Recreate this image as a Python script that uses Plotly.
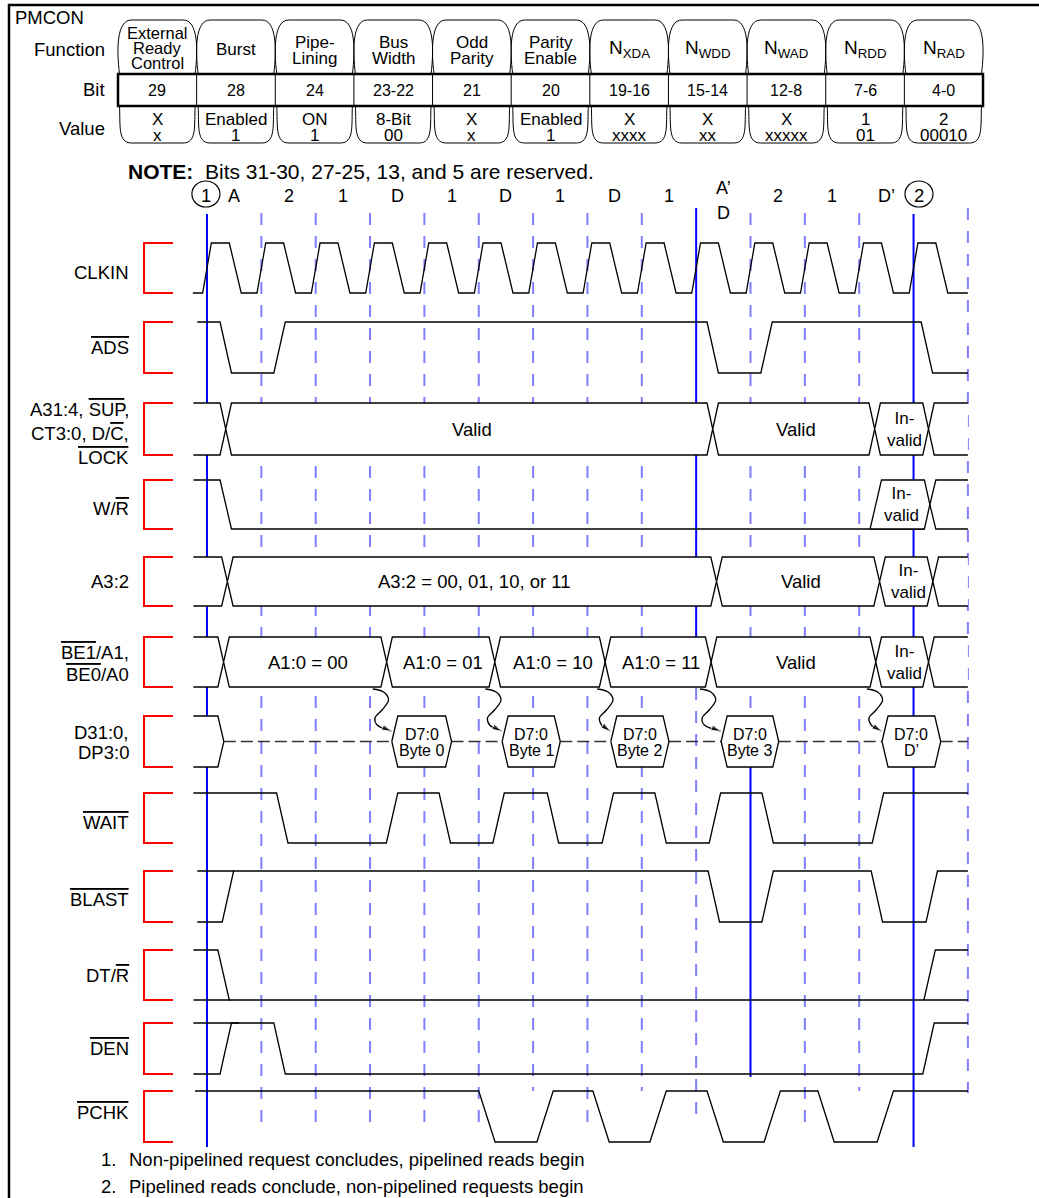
import plotly.graph_objects as go

FONT = "Liberation Sans, Arial, sans-serif"

# ---------------- register table ----------------
FUNCTIONS = ["External|Ready|Control", "Burst", "Pipe-|Lining", "Bus|Width", "Odd|Parity",
             "Parity|Enable", "N<sub>XDA</sub>", "N<sub>WDD</sub>", "N<sub>WAD</sub>",
             "N<sub>RDD</sub>", "N<sub>RAD</sub>"]
BITS = ["29", "28", "24", "23-22", "21", "20", "19-16", "15-14", "12-8", "7-6", "4-0"]
VALUE_NAMES = ["X", "Enabled", "ON", "8-Bit", "X", "Enabled", "X", "X", "X", "1", "2"]
VALUE_BITS = ["x", "1", "1", "00", "x", "1", "xxxx", "xx", "xxxxx", "01", "00010"]

# ---------------- timing data (clock units) ----------------
PHASE_LABELS = ["A", "2", "1", "D", "1", "D", "1", "D", "1", "A’", "2", "1", "D’"]
CLK_RISES = [0, 1, 2, 3, 4, 5, 6, 7, 8, 9, 10, 11, 12, 13]
DASHED_T = [1, 2, 3, 4, 5, 6, 7, 8, 11, 12]
MARKER_T = [0, 13]

ADS_EDGES = [0.24, 1.23, 9.2, 10.19, 13.14]
WR_EDGES = [0.24]
WR_INVALID = [12.2, 13.2]
WAIT_EDGES = [1.28, 3.3, 4.27, 5.26, 6.26, 7.27, 8.24, 9.24, 10.21, 12.24]
BLAST_EDGES = [0.28, 9.22, 10.21, 12.22, 13.23]
DTR_EDGES = [0.2, 13.19]
DEN_EDGES = [0.24, 1.23, 13.17]
PCHK_EDGES = [5.0, 6.07, 7.1, 8.15, 9.2, 10.25, 11.24, 12.33]

A31_TRANS = [0.24, 9.2, 12.18, 13.17]
A31_TEXT = ["", "Valid", "Valid", "In-<br>valid", ""]
A32_TRANS = [0.27, 9.27, 12.27, 13.25]
A32_TEXT = ["", "A3:2 = 00, 01, 10, or 11", "Valid", "In-<br>valid", ""]
BE_TRANS = [0.2, 3.2, 5.19, 7.22, 9.17, 12.2, 13.17]
BE_TEXT = ["", "A1:0 = 00", "A1:0 = 01", "A1:0 = 10", "A1:0 = 11", "Valid", "In-<br>valid", ""]
DATA_START = [3.4, 5.43, 7.43, 9.46, 12.42]
DATA_END = [4.5, 6.5, 8.5, 10.52, 13.5]
DATA_TEXT = ["Byte 0", "Byte 1", "Byte 2", "Byte 3", "D’"]
ARROW_FROM = [3.05, 5.12, 7.18, 9.07, 12.14]

NOTES = ["Non-pipelined request concludes, pipelined reads begin",
         "Pipelined reads conclude, non-pipelined requests begin"]

# ---------------- layout constants ----------------
W, H = 1039, 1198
X0, PER = 207.0, 54.35
T0, T1 = -0.25, 14.0
ROWS = {  # top, bottom (px)
    "CLKIN": (243, 293), "ADS": (322, 373), "A31": (403, 455), "WR": (480, 529),
    "A32": (557, 606), "BE": (637, 687), "D31": (716, 767), "WAIT": (793, 843),
    "BLAST": (871, 922), "DTR": (950, 1000), "DEN": (1023, 1074), "PCHK": (1091, 1142),
}
OV = '<span style="text-decoration:overline">%s</span>'
LABELS = [  # (text, y)
    ("CLKIN", 272), (OV % "ADS", 347), ("A31:4, " + OV % "SUP" + ",", 409),
    ("CT3:0, D/" + OV % "C" + ",", 433), (OV % "LOCK", 457), ("W/" + OV % "R", 508),
    ("A3:2", 581), (OV % "BE1" + "/A1,", 652), (OV % "BE0" + "/A0", 674),
    ("D31:0,", 732), ("DP3:0", 752), (OV % "WAIT", 822), (OV % "BLAST", 899),
    ("DT/" + OV % "R", 975), (OV % "DEN", 1048), (OV % "PCHK", 1112),
]
LINE = dict(color="black", width=1.3)
BIG = 18.5

fig = go.Figure()


def lvl(row, v):
    top, bot = ROWS[row]
    return bot - v * (bot - top)


def add_line(xs, ys, line=LINE, **kw):
    fig.add_trace(go.Scatter(x=xs, y=ys, mode=kw.pop("mode", "lines"), line=line,
                             hoverinfo="skip", showlegend=False, **kw))


def digital(row, start, edges, ramp=0.21, t0=T0, t1=T1, fill=False):
    xs, ys, v = [t0], [start], start
    for e in edges:
        xs += [e, e + ramp]
        ys += [v, 1 - v]
        v = 1 - v
    xs.append(t1)
    ys.append(v)
    kw = dict(fill="toself", fillcolor="white") if fill else {}
    add_line(xs, [lvl(row, y) for y in ys], **kw)


def bus(row, trans, texts, w=0.21):
    pts = [None] + trans + [None]
    for i in range(len(pts) - 1):
        a, b = pts[i], pts[i + 1]
        if a is None:
            xs, ys = [T0, b, b + w / 2, b, T0], [1, 1, 0.5, 0, 0]
        elif b is None:
            xs, ys = [T1, a + w, a + w / 2, a + w, T1], [1, 1, 0.5, 0, 0]
        else:
            xs = [a + w / 2, a + w, b, b + w / 2, b, a + w, a + w / 2]
            ys = [0.5, 1, 1, 0.5, 0, 0, 0.5]
        add_line(xs, [lvl(row, y) for y in ys], fill="toself", fillcolor="white")
        if texts[i]:
            lo = T0 if a is None else a + w
            hi = T1 if b is None else b
            fig.add_annotation(x=(lo + hi) / 2 + 0.05, y=lvl(row, 0.5), text=texts[i],
                               showarrow=False,
                               font=dict(size=BIG if "<br>" not in texts[i] else 17))


# grid: dashed clock lines and blue markers
dash = dict(color="#7f7fff", width=2, dash="12px,11px")
for t in DASHED_T:
    add_line([t, t], [213, 1125], line=dash)
add_line([9, 9], [688, 1125], line=dash)
add_line([10, 10], [213, 767], line=dash)
add_line([14, 14], [208, 1093], line=dash)
blue = dict(color="#0000ff", width=2)
for t in MARKER_T:
    add_line([t, t], [214, 1147], line=blue)
add_line([9, 9], [208, 637], line=blue)
add_line([10, 10], [767, 1077], line=blue)

# clock
xs, ys = [T0 - 0.01], [0]
for r in CLK_RISES:
    xs += [r - 0.08, r + 0.08, r + 0.41, r + 0.63]
    ys += [0, 1, 1, 0]
xs.append(T1)
ys.append(0)
add_line(xs, [lvl("CLKIN", y) for y in ys])

digital("ADS", 1, ADS_EDGES, t0=-0.18)
digital("WR", 1, WR_EDGES, t1=WR_INVALID[1])
# W/R goes invalid then both levels
a, b = WR_INVALID
add_line([a, a + 0.21, b, b + 0.1, b, a], [lvl("WR", y) for y in [0, 1, 1, 0.5, 0, 0]],
         fill="toself", fillcolor="white")
add_line([T1, b + 0.21, b + 0.1, b + 0.21, T1], [lvl("WR", y) for y in [1, 1, 0.5, 0, 0]])
fig.add_annotation(x=(a + b) / 2 + 0.08, y=lvl("WR", 0.5), text="In-<br>valid",
                   showarrow=False, font=dict(size=17))

bus("A31", A31_TRANS, A31_TEXT)
bus("A32", A32_TRANS, A32_TEXT)
bus("BE", BE_TRANS, BE_TEXT)

# data bus
add_line([T0, 0.2, 0.31, 0.2, T0], [lvl("D31", y) for y in [1, 1, 0.5, 0, 0]],
         fill="toself", fillcolor="white")
gaps = [0.31] + DATA_END
ddash = dict(color="#333333", width=1.6, dash="12px,5px")
for i, s in enumerate(DATA_START + [T1]):
    add_line([gaps[i], s], [lvl("D31", 0.5)] * 2, line=ddash)
for s, e, txt in zip(DATA_START, DATA_END, DATA_TEXT):
    h = 0.11
    add_line([s, s + h, e - h, e, e - h, s + h, s],
             [lvl("D31", y) for y in [0.5, 1, 1, 0.5, 0, 0, 0.5]],
             fill="toself", fillcolor="white")
    fig.add_annotation(x=(s + e) / 2, y=734, text="D7:0", showarrow=False,
                       font=dict(size=16), borderpad=0)
    fig.add_annotation(x=(s + e) / 2, y=750, text=txt, showarrow=False,
                       font=dict(size=16), borderpad=0)

# curly arrows from address change to data
for t0, t1 in zip(ARROW_FROM, DATA_START):
    dx = [0, 0.2, 0.29, 0.17, 0.04, 0.08, t1 - t0 - 0.01]
    dy = [689, 692, 700, 710, 718, 725, 731]
    add_line([t0 + d for d in dx], dy, mode="lines+markers",
             line=dict(color="black", width=1.3, shape="spline"),
             marker=dict(symbol="arrow", angleref="previous", color="black",
                         size=[0, 0, 0, 0, 0, 0, 10]))

digital("WAIT", 1, WAIT_EDGES)
add_line([-0.18, 0.5], [lvl("BLAST", 1)] * 2)
digital("BLAST", 0, BLAST_EDGES, t0=-0.18)
add_line([T0, 0.43], [lvl("DTR", 0)] * 2)
add_line([13.19, T1], [lvl("DTR", 0)] * 2)
digital("DTR", 1, DTR_EDGES)
add_line([T0, 0.59], [lvl("DEN", 1)] * 2)
digital("DEN", 0, DEN_EDGES)
digital("PCHK", 1, PCHK_EDGES, ramp=0.3, t0=-0.22, fill=True)

# phase labels and circled markers
for i, lab in enumerate(PHASE_LABELS):
    y = 188 if lab == "A’" else 196
    fig.add_annotation(x=i + 0.5, y=y, text=lab, showarrow=False, font=dict(size=18))
fig.add_annotation(x=9.5, y=213, text="D", showarrow=False, font=dict(size=18))
for k, t in enumerate(MARKER_T):
    xc = t - 0.02 if k == 0 else t + 0.1
    fig.add_shape(type="circle", xref="x", yref="y", xsizemode="pixel", ysizemode="pixel",
                  xanchor=xc, yanchor=194, x0=-14, x1=14, y0=-13, y1=13,
                  line=dict(color="black", width=1.2))
    fig.add_annotation(x=xc, y=195, text=str(k + 1), showarrow=False, font=dict(size=BIG))

# row labels and red brackets
for txt, y in LABELS:
    fig.add_annotation(x=131, xref="x2", y=y, text=txt, xanchor="right",
                       showarrow=False, font=dict(size=BIG))
for top, bot in ROWS.values():
    fig.add_shape(type="path", xref="x2", yref="y",
                  path=f"M 173 {top} L 144 {top} L 144 {bot} L 173 {bot}",
                  line=dict(color="#ff0000", width=2))

# register table
X_L, X_R = 118, 983
cw = (X_R - X_L) / len(BITS)
for i in range(len(BITS)):
    x0, x1 = X_L + i * cw + 1.5, X_L + (i + 1) * cw - 1.5
    xc = (x0 + x1) / 2
    fig.add_shape(type="path", xref="x2", yref="y", line=dict(color="black", width=1),
                  path=f"M {x0} 74 C {x0-3} 50 {x0-3} 20 {x0+12} 20 L {x1-12} 20 "
                       f"C {x1+3} 20 {x1+3} 50 {x1} 74")
    fig.add_shape(type="path", xref="x2", yref="y", line=dict(color="black", width=1),
                  path=f"M {x0} 106 C {x0+1} 125 {x0-2} 143 {x0+12} 143 L {x1-12} 143 "
                       f"C {x1+2} 143 {x1-1} 125 {x1} 106")
    parts = FUNCTIONS[i].split("|")
    ys = {1: [49], 2: [42, 58], 3: [33, 48, 63]}[len(parts)]
    size = {1: 17, 2: 17, 3: 16.5}[len(parts)]
    if "<sub>" in parts[0]:
        size = 19
    for p, yy in zip(parts, ys):
        fig.add_annotation(x=xc, xref="x2", y=yy, text=p, showarrow=False,
                           font=dict(size=size), borderpad=0)
    fig.add_annotation(x=xc, xref="x2", y=90, text=BITS[i], showarrow=False, font=dict(size=16))
    fig.add_annotation(x=xc, xref="x2", y=119, text=VALUE_NAMES[i], showarrow=False,
                       font=dict(size=17), borderpad=0)
    fig.add_annotation(x=xc, xref="x2", y=135, text=VALUE_BITS[i], showarrow=False,
                       font=dict(size=17), borderpad=0)
    if i:
        fig.add_shape(type="line", xref="x2", yref="y", x0=X_L + i * cw, x1=X_L + i * cw,
                      y0=74, y1=106, line=dict(color="black", width=1))
fig.add_shape(type="rect", xref="x2", yref="y", x0=X_L, x1=X_R, y0=74, y1=106,
              line=dict(color="black", width=2.5))
for txt, y in [("Function", 49), ("Bit", 89), ("Value", 128)]:
    fig.add_annotation(x=107, xref="x2", y=y, text=txt, xanchor="right",
                       showarrow=False, font=dict(size=BIG))
fig.add_annotation(x=13, xref="x2", y=17, text="PMCON", xanchor="left",
                   showarrow=False, font=dict(size=BIG))
fig.add_annotation(x=126, xref="x2", y=171, xanchor="left", showarrow=False,
                   text="<b>NOTE:</b>  Bits 31-30, 27-25, 13, and 5 are reserved.",
                   font=dict(size=21))
for k, n in enumerate(NOTES):
    fig.add_annotation(x=99, xref="x2", y=1159 + 27 * k, xanchor="left", showarrow=False,
                       text=f"{k + 1}.", font=dict(size=BIG))
    fig.add_annotation(x=127, xref="x2", y=1159 + 27 * k, xanchor="left", showarrow=False,
                       text=n, font=dict(size=BIG))

# frame
fig.add_shape(type="path", xref="x2", yref="y", path="M 9 1198 L 9 5 L 1039 5",
              line=dict(color="black", width=2.5))

fig.update_layout(
    width=W, height=H, margin=dict(l=0, r=0, t=0, b=0),
    plot_bgcolor="white", paper_bgcolor="white",
    font=dict(family=FONT, color="black", size=17),
    xaxis=dict(range=[-X0 / PER, (W - X0) / PER], visible=False, fixedrange=True),
    xaxis2=dict(range=[0, W], overlaying="x", visible=False, fixedrange=True),
    yaxis=dict(range=[H, 0], visible=False, fixedrange=True),
)
fig.write_html("out.html", config={"displayModeBar": False},
               post_script="document.body.style.margin='0px';")
